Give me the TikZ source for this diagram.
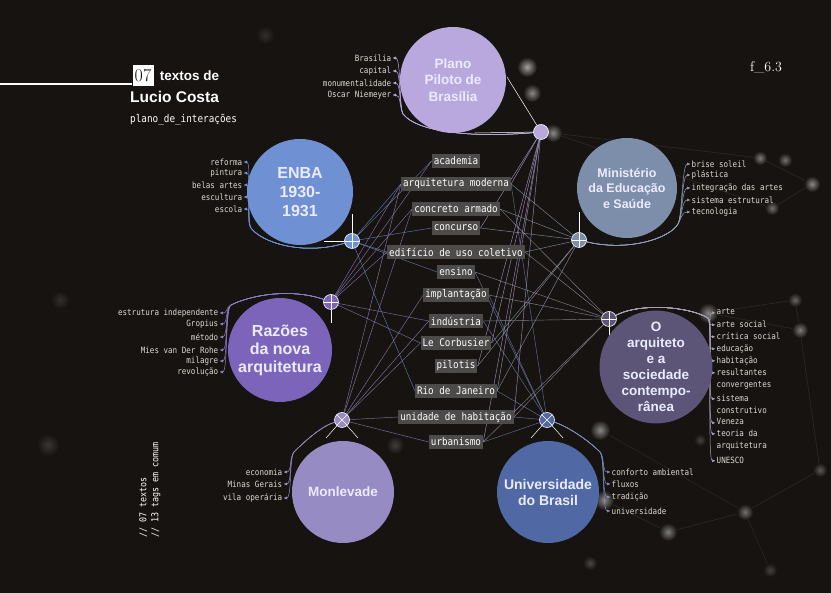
\documentclass[tikz,border=0pt]{standalone}
\usepackage{fontspec}
\usepackage{xcolor}
\usepackage{tikz}
\usetikzlibrary{arrows.meta,positioning}

\newfontfamily\labelfont{Liberation Sans}
\newfontfamily\kwfont[FakeStretch=0.88]{DejaVu Sans Mono}

\definecolor{bgcol}{RGB}{22,19,16}
\definecolor{planocol}{RGB}{184,168,222}
\definecolor{enbacol}{RGB}{112,144,212}
\definecolor{minicol}{RGB}{125,142,171}
\definecolor{razcol}{RGB}{124,100,186}
\definecolor{arqcol}{RGB}{92,85,120}
\definecolor{moncol}{RGB}{150,139,194}
\definecolor{univcol}{RGB}{80,104,164}
\definecolor{tagfill}{RGB}{76,75,73}
\definecolor{kwtext}{RGB}{222,218,210}

\pgfdeclarelayer{backdrop}
\pgfdeclarelayer{links}
\pgfsetlayers{backdrop,links,main}

\tikzset{
    textcircle/.style={circle, inner sep=0pt, align=center, text=white!92!blue},
    hubdot/.style={circle, inner sep=0pt, minimum size=15pt, draw=white!65, line width=0.6pt},
    plushub/.style={hubdot, path picture={
        \draw[white!85, line width=0.5pt] (path picture bounding box.north) -- (path picture bounding box.south)
            (path picture bounding box.west) -- (path picture bounding box.east);}},
    crosshub/.style={hubdot, path picture={
        \draw[white!85, line width=0.5pt] (path picture bounding box.north west) -- (path picture bounding box.south east)
            (path picture bounding box.north east) -- (path picture bounding box.south west);}},
    tagbox/.style={fill=tagfill, text=white!92, font=\kwfont\fontsize{10.5}{11}\selectfont, inner xsep=2pt, inner ysep=0pt, minimum height=14pt},
    kwleft/.style={anchor=east, text=kwtext, font=\kwfont\fontsize{8.6}{9}\selectfont, inner sep=0.5pt},
    kwright/.style={anchor=west, text=kwtext, font=\kwfont\fontsize{8.6}{9}\selectfont, inner sep=0.5pt},
    kwstack/.style={anchor=north west, align=left, text=kwtext, font=\kwfont\fontsize{8.6}{12}\selectfont, inner sep=0.5pt},
    kwlink/.style={line width=0.5pt, shorten >=0.5pt, -{Latex[length=3.5pt,width=3pt]}},
    taglink/.style={line width=0.45pt, opacity=0.8},
    hubtick/.style={white!70, line width=0.5pt},
    bokeh/.style={inner color=#1, outer color=bgcol}
}

\begin{document}
\begin{tikzpicture}[x=1pt, y=-1pt]
    \useasboundingbox (0,0) rectangle (831,593);

    % Backdrop
    \begin{pgfonlayer}{backdrop}
        \fill[bgcol] (0,0) rectangle (831,593);
        \draw[white!11!bgcol, line width=0.5pt] (553,133) -- (760,158) -- (812,184) -- (772,208) -- (553,133);
        \draw[white!11!bgcol, line width=0.5pt] (708,313) -- (795,300) -- (800,330) -- (708,313);
        \draw[white!11!bgcol, line width=0.5pt] (604,500) -- (668,532) -- (745,512) -- (820,470) -- (800,330);
        \draw[white!9!bgcol, line width=0.5pt] (600,430) -- (745,512) -- (770,570);
        \shade[bokeh=white!60!bgcol] (527,67) circle (10);
        \shade[bokeh=white!50!bgcol] (532,93) circle (9);
        \shade[bokeh=white!50!bgcol] (553,133) circle (9);
        \shade[bokeh=white!45!bgcol] (760,158) circle (7);
        \shade[bokeh=white!40!bgcol] (785,160) circle (7);
        \shade[bokeh=white!50!bgcol] (812,184) circle (8);
        \shade[bokeh=white!40!bgcol] (772,208) circle (7);
        \shade[bokeh=white!35!bgcol] (795,300) circle (7);
        \shade[bokeh=white!45!bgcol] (800,330) circle (8);
        \shade[bokeh=white!50!bgcol] (708,313) circle (10);
        \shade[bokeh=white!50!bgcol] (600,430) circle (10);
        \shade[bokeh=white!50!bgcol] (604,500) circle (10);
        \shade[bokeh=white!45!bgcol] (668,532) circle (9);
        \shade[bokeh=white!40!bgcol] (745,512) circle (8);
        \shade[bokeh=white!30!bgcol] (820,470) circle (7);
        \shade[bokeh=white!15!bgcol] (48,445) circle (11);
        \shade[bokeh=white!12!bgcol] (60,300) circle (9);
        \shade[bokeh=white!12!bgcol] (265,35) circle (9);
        \shade[bokeh=white!18!bgcol] (395,445) circle (9);
        \shade[bokeh=white!22!bgcol] (590,563) circle (7);
        \shade[bokeh=white!20!bgcol] (700,440) circle (6);
        \shade[bokeh=white!20!bgcol] (770,570) circle (7);
    \end{pgfonlayer}

    % Title
    \coordinate (title_start) at (0,84);
    \node[fill=white, text=bgcol, font=\fontsize{18}{18}\selectfont, inner sep=0pt, minimum width=21pt, minimum height=21pt] (title_num) at (143,75.5) {07};
    \draw[white, line width=1.5pt] (title_start) -- (title_num.west |- title_start);
    \node[right=6pt of title_num, text=white, font=\labelfont\bfseries\fontsize{13.5}{14}\selectfont, inner sep=0pt] (title_top) {textos de};
    \node[anchor=west, text=white, font=\labelfont\bfseries\fontsize{15.5}{16}\selectfont, inner sep=0pt] (title_name) at (130,97) {Lucio Costa};
    \node[anchor=west, text=white!75, font=\kwfont\fontsize{10.6}{11}\selectfont, inner sep=0pt] (title_sub) at (130,120) {plano\_de\_interações};
    \node[text=white!80, font=\fontsize{14}{14}\selectfont] (fig_label) at (766,68) {f\_6.3};
    \node[rotate=90, anchor=north west, align=left, text=white!40, font=\kwfont\fontsize{9.5}{12}\selectfont, inner sep=0pt] (side_note) at (139,538) {// 07 textos\\// 13 tags em comum};

    % Texts
    \node[textcircle, fill=planocol, minimum size=106pt, font=\labelfont\bfseries\fontsize{13.5}{16.5}\selectfont] (plano) at (453,80) {Plano\\Piloto de\\Brasília};
    \node[textcircle, fill=enbacol, minimum size=106pt, font=\labelfont\bfseries\fontsize{16}{19}\selectfont] (enba) at (300,192) {ENBA\\1930-\\1931};
    \node[textcircle, fill=minicol, minimum size=100pt, font=\labelfont\bfseries\fontsize{12.5}{15.5}\selectfont] (ministerio) at (627,188) {Ministério\\da Educação\\e Saúde};
    \node[textcircle, fill=razcol, minimum size=104pt, font=\labelfont\bfseries\fontsize{16}{18}\selectfont] (razoes) at (280,350) {Razões\\da nova\\arquitetura};
    \node[textcircle, fill=arqcol, minimum size=100pt, font=\labelfont\bfseries\fontsize{13.5}{16}\selectfont] (arquiteto) at (656,367) {O\\arquiteto\\e a\\sociedade\\contempo-\\rânea};
    \node[textcircle, fill=moncol, minimum size=102pt, font=\labelfont\bfseries\fontsize{13.5}{16}\selectfont] (monlevade) at (343,492) {Monlevade};
    \node[textcircle, fill=univcol, minimum size=102pt, font=\labelfont\bfseries\fontsize{14}{16}\selectfont] (univ) at (548,492) {Universidade\\do Brasil};

    % Hubs
    \node[hubdot, fill=planocol] (plano_hub) at (541,132) {};
    \node[plushub, fill=enbacol] (enba_hub) at (352,241) {};
    \node[plushub, fill=minicol] (ministerio_hub) at (579,240) {};
    \node[plushub, fill=razcol] (razoes_hub) at (331,302) {};
    \node[plushub, fill=arqcol] (arquiteto_hub) at (609,319) {};
    \node[crosshub, fill=moncol] (monlevade_hub) at (342,420) {};
    \node[crosshub, fill=univcol] (univ_hub) at (547,420) {};

    % Tags in common
    \node[tagbox] (tag_academia) at (456,161) {academia};
    \node[tagbox] (tag_arqmoderna) at (456,184) {arquitetura moderna};
    \node[tagbox] (tag_concreto) at (456,209) {concreto armado};
    \node[tagbox] (tag_concurso) at (456,228) {concurso};
    \node[tagbox] (tag_edificio) at (456,252) {edifício de uso coletivo};
    \node[tagbox] (tag_ensino) at (456,272) {ensino};
    \node[tagbox] (tag_implantacao) at (456,295) {implantação};
    \node[tagbox] (tag_industria) at (456,321) {indústria};
    \node[tagbox] (tag_corbusier) at (456,343) {Le Corbusier};
    \node[tagbox] (tag_pilotis) at (456,366) {pilotis};
    \node[tagbox] (tag_rio) at (456,391) {Rio de Janeiro};
    \node[tagbox] (tag_unidade) at (456,417) {unidade de habitação};
    \node[tagbox] (tag_urbanismo) at (456,442) {urbanismo};

    % Own tags
    \node[kwleft] (kw_brasilia) at (392,58) {Brasília};
    \node[kwleft] (kw_capital) at (392,71) {capital};
    \node[kwleft] (kw_monumentalidade) at (392,83) {monumentalidade};
    \node[kwleft] (kw_niemeyer) at (392,95) {Oscar Niemeyer};

    \node[kwleft] (kw_reforma) at (243,162) {reforma};
    \node[kwleft] (kw_pintura) at (243,173) {pintura};
    \node[kwleft] (kw_belasartes) at (243,185) {belas artes};
    \node[kwleft] (kw_escultura) at (243,197) {escultura};
    \node[kwleft] (kw_escola) at (243,209) {escola};

    \node[kwright] (kw_brise) at (691,164) {brise soleil};
    \node[kwright] (kw_plastica) at (691,175) {plástica};
    \node[kwright] (kw_integracao) at (691,188) {integração das artes};
    \node[kwright] (kw_sistemaestr) at (691,200) {sistema estrutural};
    \node[kwright] (kw_tecnologia) at (691,212) {tecnologia};

    \node[kwleft] (kw_estrutura) at (219,313) {estrutura independente};
    \node[kwleft] (kw_gropius) at (219,324) {Gropius};
    \node[kwleft] (kw_metodo) at (219,337) {método};
    \node[kwleft] (kw_mies) at (219,350) {Mies van Der Rohe};
    \node[kwleft] (kw_milagre) at (219,361) {milagre};
    \node[kwleft] (kw_revolucao) at (219,372) {revolução};

    \node[kwstack] (kw_arte) at (716,308) {arte};
    \node[kwstack] (kw_artesocial) at (716,320) {arte social};
    \node[kwstack] (kw_critica) at (716,332) {crítica social};
    \node[kwstack] (kw_educacao) at (716,344) {educação};
    \node[kwstack] (kw_habitacao) at (716,356) {habitação};
    \node[kwstack] (kw_resultantes) at (716,368) {resultantes\\convergentes};
    \node[kwstack] (kw_sistema) at (716,394) {sistema\\construtivo};
    \node[kwstack] (kw_veneza) at (716,418) {Veneza};
    \node[kwstack] (kw_teoria) at (716,429) {teoria da\\arquitetura};
    \node[kwstack] (kw_unesco) at (716,456) {UNESCO};

    \node[kwleft] (kw_economia) at (283,472) {economia};
    \node[kwleft] (kw_minas) at (283,484) {Minas Gerais};
    \node[kwleft] (kw_vila) at (283,498) {vila operária};

    \node[kwright] (kw_conforto) at (611,472) {conforto ambiental};
    \node[kwright] (kw_fluxos) at (611,484) {fluxos};
    \node[kwright] (kw_tradicao) at (611,497) {tradição};
    \node[kwright] (kw_universidade) at (611,511) {universidade};

    % Bends of the bundles
    \coordinate (plano_bend) at (403,114);
    \coordinate (enba_bend) at (251,228);
    \coordinate (ministerio_bend) at (678,224);
    \coordinate (razoes_bend) at (231,305);
    \coordinate (arquiteto_bend) at (708,318);
    \coordinate (monlevade_bend) at (294,452);
    \coordinate (univ_bend) at (600,452);

    \begin{pgfonlayer}{links}
        % Hub ticks
        \draw[hubtick] (plano_hub) -- ++(-34,-55);
        \draw[hubtick] (plano_hub) -- ++(-66,1);
        \draw[hubtick] (enba_hub) -- ++(0,-27);
        \draw[hubtick] (enba_hub) -- ++(-28,0);
        \draw[hubtick] (ministerio_hub) -- ++(0,-28);
        \draw[hubtick] (razoes_hub) -- ++(0,21);
        \draw[hubtick] (arquiteto_hub) -- ++(0,20);
        \draw[hubtick] (monlevade_hub) -- ++(-16,18);
        \draw[hubtick] (monlevade_hub) -- ++(16,18);
        \draw[hubtick] (univ_hub) -- ++(-16,18);
        \draw[hubtick] (univ_hub) -- ++(16,18);

        % Links to tags in common
        \foreach \t in {arqmoderna,concurso,corbusier,pilotis,rio,unidade,urbanismo}
            \draw[taglink, planocol] (plano_hub) -- (tag_\t.east);
        \foreach \t in {academia,arqmoderna,concurso,edificio,ensino,rio}
            \draw[taglink, enbacol] (enba_hub) -- (tag_\t.west);
        \foreach \t in {arqmoderna,concreto,concurso,edificio,corbusier,pilotis,rio}
            \draw[taglink, minicol!80!white] (ministerio_hub) -- (tag_\t.east);
        \foreach \t in {academia,arqmoderna,concreto,industria,corbusier,edificio}
            \draw[taglink, razcol!80!white] (razoes_hub) -- (tag_\t.west);
        \foreach \t in {concreto,edificio,ensino,industria,implantacao,urbanismo,unidade}
            \draw[taglink, arqcol!60!white] (arquiteto_hub) -- (tag_\t.east);
        \foreach \t in {arqmoderna,concreto,industria,implantacao,urbanismo,unidade,corbusier}
            \draw[taglink, moncol] (monlevade_hub) -- (tag_\t.west);
        \foreach \t in {arqmoderna,ensino,implantacao,industria,urbanismo,unidade,rio}
            \draw[taglink, univcol!80!white] (univ_hub) -- (tag_\t.east);

        % Links to own tags
        \foreach \k in {brasilia,capital,monumentalidade,niemeyer}
            \draw[kwlink, planocol] (plano_hub) .. controls +(-70,6) and +(14,18) .. (plano_bend)
                .. controls +(-4,-8) and +(9,0) .. (kw_\k.east);
        \foreach \k in {reforma,pintura,belasartes,escultura,escola}
            \draw[kwlink, enbacol] (enba_hub) .. controls +(-50,15) and +(10,14) .. (enba_bend)
                .. controls +(-5,-7) and +(9,0) .. (kw_\k.east);
        \foreach \k in {brise,plastica,integracao,sistemaestr,tecnologia}
            \draw[kwlink, minicol!85!white] (ministerio_hub) .. controls +(50,12) and +(-8,14) .. (ministerio_bend)
                .. controls +(4,-7) and +(-9,0) .. (kw_\k.west);
        \foreach \k in {estrutura,gropius,metodo,mies,milagre,revolucao}
            \draw[kwlink, razcol!85!white] (razoes_hub) .. controls +(-40,-14) and +(20,-10) .. (razoes_bend)
                .. controls +(-6,3) and +(9,0) .. (kw_\k.east);
        \foreach \k in {arte,artesocial,critica,educacao,habitacao,resultantes,sistema,veneza,teoria,unesco}
            \draw[kwlink, arqcol!55!white] (arquiteto_hub) .. controls +(30,-16) and +(-20,-12) .. (arquiteto_bend)
                .. controls +(5,6) and +(-9,0) .. ([yshift=-4.8pt]kw_\k.north west);
        \foreach \k in {economia,minas,vila}
            \draw[kwlink, moncol] (monlevade_hub) .. controls +(-20,6) and +(12,-12) .. (monlevade_bend)
                .. controls +(-5,6) and +(9,0) .. (kw_\k.east);
        \foreach \k in {conforto,fluxos,tradicao,universidade}
            \draw[kwlink, univcol!75!white] (univ_hub) .. controls +(20,6) and +(-12,-12) .. (univ_bend)
                .. controls +(5,6) and +(-9,0) .. (kw_\k.west);
    \end{pgfonlayer}
\end{tikzpicture}
\end{document}
